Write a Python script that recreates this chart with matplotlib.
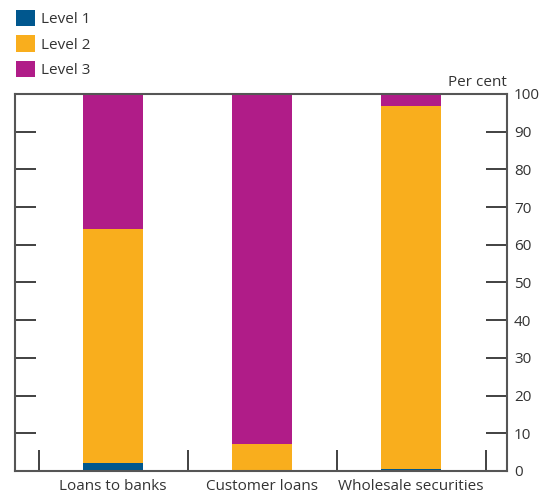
import numpy as np
import matplotlib.pyplot as plt
from matplotlib.patches import Patch

plt.rcParams['font.family'] = ['Open Sans', 'DejaVu Sans']

categories = ['Loans to banks', 'Customer loans', 'Wholesale securities']
level1 = [2.1, 0.0, 0.5]
level2 = [62.1, 7.2, 96.3]
level3 = [35.8, 92.8, 3.2]

colours = ['#00578E', '#F9AE1D', '#B01C88']
labels = ['Level 1', 'Level 2', 'Level 3']
spine_col = '#555555'

fig = plt.figure(figsize=(5.4, 4.94), dpi=100)
ax = fig.add_axes([0.0278, 0.0466, 0.9111, 0.7632])

x = np.arange(len(categories))
bottom = np.zeros(len(categories))
for vals, c in zip([level1, level2, level3], colours):
    ax.bar(x, vals, width=0.4, bottom=bottom, color=c, linewidth=0)
    bottom += np.array(vals)

ax.set_xlim(-0.658, 2.644)
ax.set_ylim(0, 100)

for s in ax.spines.values():
    s.set_color(spine_col)
    s.set_linewidth(1.5)

# y ticks on both sides, labels on the right
ax.set_yticks(np.arange(0, 101, 10))
ax.tick_params(axis='y', which='both', direction='in', length=15, width=1.3,
               color='#333333', left=True, right=True, labelleft=False,
               labelright=True, labelsize=11, labelcolor='#333333', pad=5)

# category boundaries as minor ticks, names as major labels
ax.set_xticks(x)
ax.set_xticklabels(categories, fontsize=11, color='#333333')
ax.set_xticks([-0.5, 0.5, 1.5, 2.5], minor=True)
ax.tick_params(axis='x', which='major', length=0, pad=6)
ax.tick_params(axis='x', which='minor', direction='in', length=15, width=1.3,
               color='#333333')

ax.text(1.0, 1.01, 'Per cent', transform=ax.transAxes, ha='right', va='bottom',
        fontsize=11, color='#333333')

handles = [Patch(facecolor=c, edgecolor='none') for c in colours]
fig.legend(handles, labels, loc='upper left', bbox_to_anchor=(0.03, 0.98),
           frameon=False, fontsize=11, handlelength=1.25, handleheight=1.25,
           handletextpad=0.35, labelspacing=0.55, borderaxespad=0,
           borderpad=0, labelcolor='#333333')

fig.savefig('out.png', dpi=100)
